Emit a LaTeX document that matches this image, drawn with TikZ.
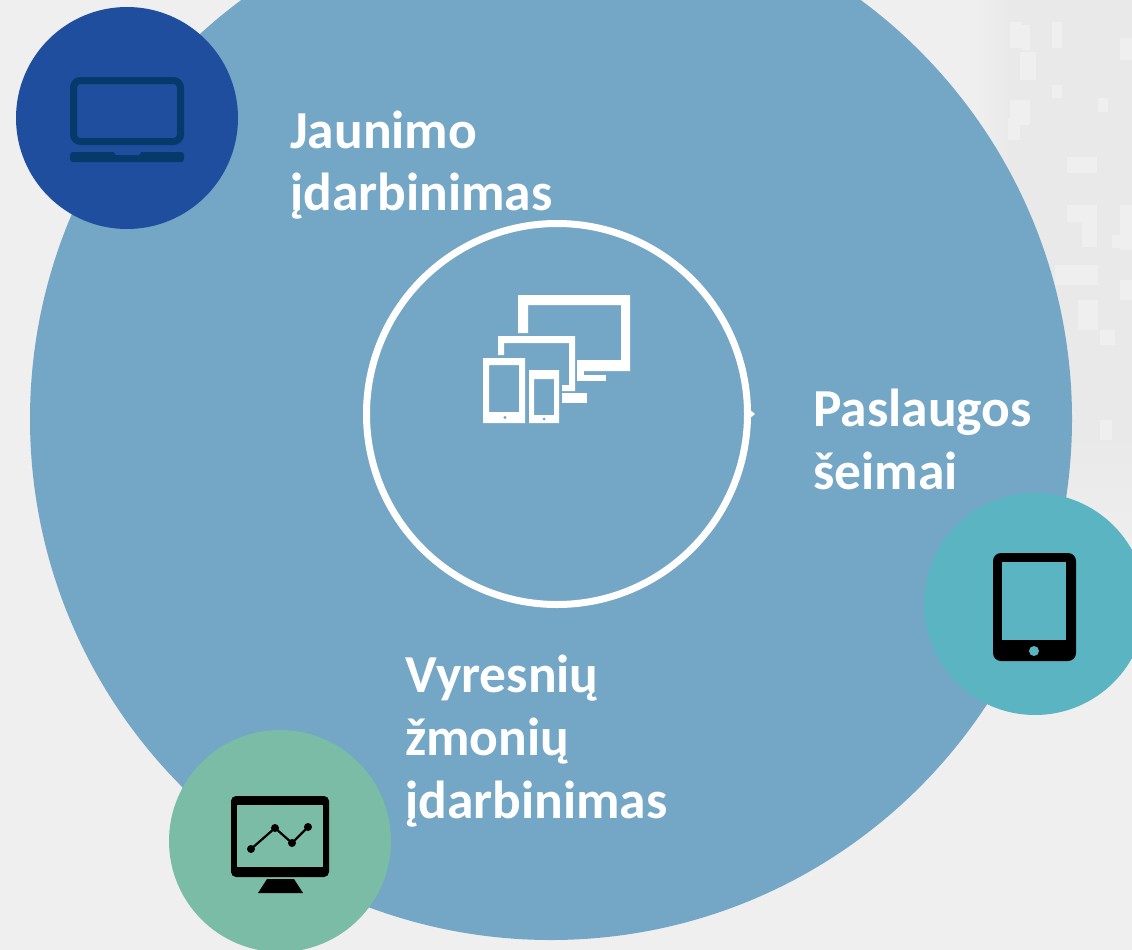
\documentclass[tikz,border=0pt]{standalone}
\usepackage{fontspec}
\setmainfont{Carlito}
\definecolor{bgc}{HTML}{EFEFEF}
\definecolor{bgd}{HTML}{E9E9E9}
\definecolor{bgl}{HTML}{EFEFEF}
\definecolor{bigc}{HTML}{74A6C6}
\definecolor{darkb}{HTML}{1F4E9E}
\definecolor{icond}{HTML}{053A6B}
\definecolor{tealc}{HTML}{5AB4C2}
\definecolor{greenc}{HTML}{7ABCA6}
\tikzset{
  disc/.style={circle,inner sep=0pt,minimum size=222pt,draw=none},
  lab/.style={text=white,font=\fontsize{53.5}{63}\selectfont\bfseries,align=left,anchor=base west,inner sep=0pt},
  wh/.style={fill=white,draw=none},
  blk/.style={fill=black,draw=none},
  block/.style={fill=bgl,draw=none}
}
\begin{document}
\begin{tikzpicture}[x=1pt,y=-1pt]
\useasboundingbox (0,0) rectangle (1132,950);
\clip (0,0) rectangle (1132,950);
\fill[bgc] (0,0) rectangle (1132,950);
\shade[left color=bgc,right color=bgd,shading angle=90] (975,0) rectangle (1010,430);
\fill[bgd] (1009.5,0) rectangle (1132,430);
\shade[top color=bgd,bottom color=bgc] (1000,429.5) rectangle (1132,570);
% faint pixel pattern
\foreach \a/\b/\c/\d in {1010/22/1022/48,1022/25/1030/50,1052/22/1062/48,1120/38/1132/60,1020/52/1036/80,1052/85/1062/98,1098/98/1108/112,1010/100/1030/125,1008/118/1020/140,1067/157/1097/173,1067/205/1097/222,1082/222/1097/247,1120/205/1132/250,1112/235/1122/248,1055/265/1098/285,1120/280/1132/300,1078/300/1098/330,1100/330/1115/345,1100/420/1112/440}{
  \fill[block] (\a,\b) rectangle (\c,\d);
}
\node[circle,fill=bigc,inner sep=0pt,minimum size=1042pt] (big) at (551,419) {};
\node[circle,draw=white,line width=7pt,inner sep=0pt,minimum size=381pt] (ring) at (557,414) {};
\fill[white] (ring.east) ++(-2,-5) -- ++(6,5) -- ++(-6,5) -- cycle;
\node[disc,fill=darkb] (laptop) at (127,118) {};
\node[disc,fill=tealc] (tablet) at (1035,604) {};
\node[disc,fill=greenc] (chart) at (280,841) {};
\node[lab] (t1a) at (290,148) {Jaunimo};
\node[lab] (t1b) at (290,210) {įdarbinimas};
\node[lab] (t2a) at (813,426) {Paslaugos};
\node[lab] (t2b) at (813,489) {šeimai};
\node[lab] (t3a) at (405,692) {Vyresnių};
\node[lab] (t3b) at (405,755) {žmonių};
\node[lab] (t3c) at (405,818) {įdarbinimas};
% laptop icon
\draw[icond,line width=7pt,rounded corners=7pt] (73.5,80.5) rectangle (180.5,141.5);
\fill[icond,rounded corners=3pt] (70,152) rectangle (184,162);
\fill[darkb] (113,151) -- (142,151) -- (139,155) -- (116,155) -- cycle;
% centre icon: big monitor
\fill[wh] (518,333) -- (518,295) -- (630,295) -- (630,371) -- (577,371) -- (577,360) -- (621,360) -- (621,305) -- (528,305) -- (528,333) -- cycle;
\fill[wh] (577,371) rectangle (584,376);
\fill[wh] (577,375) rectangle (606,381);
% middle monitor
\fill[wh] (498,355) -- (498,336) -- (575,336) -- (575,391) -- (562,391) -- (562,385) -- (569,385) -- (569,343) -- (504,343) -- (504,355) -- cycle;
\fill[wh] (562,393) rectangle (587,403);
% tablet
\fill[wh,even odd rule] (483,358) rectangle (525,423) (489,365) rectangle (519,412);
\fill[bigc] (505,417.5) circle (1.7);
% phone
\fill[wh,even odd rule] (529,370) rectangle (559,423) (534,379) rectangle (554,415);
\fill[bigc] (544,419) circle (1.5);
% black tablet icon
\fill[blk,rounded corners=8pt] (993,553) rectangle (1076,661);
\fill[tealc] (1002,562) rectangle (1066,640);
\fill[tealc] (1034,651) circle (5);
% chart icon
\fill[blk,rounded corners=5pt] (231,796) rectangle (329,877);
\fill[greenc] (237,805) rectangle (323,867);
\fill[blk] (267,879) -- (294,879) -- (303,893) -- (258,893) -- cycle;
\draw[black,line width=2.2pt] (251,849) -- (275,828) -- (292,843) -- (308,827);
\foreach \p/\q in {251/849,275/828,292/843,308/827}{\fill[black] (\p,\q) circle (4);}
\end{tikzpicture}
\end{document}
